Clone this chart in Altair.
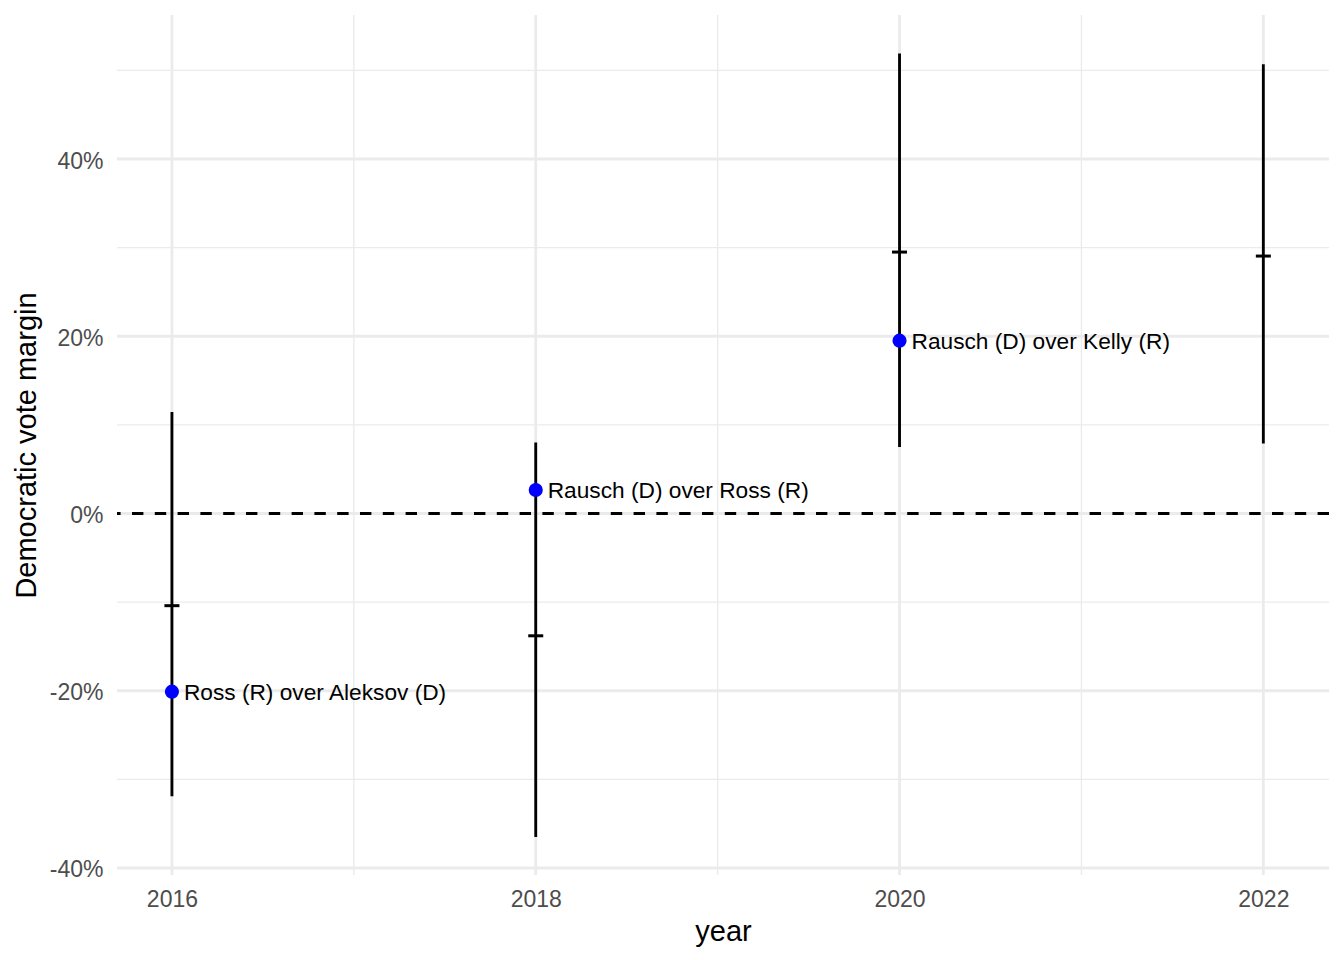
import altair as alt
import pandas as pd

years = [2016, 2018, 2020, 2022]
ci_low = [-31.9, -36.5, 7.5, 7.9]
ci_high = [11.45, 8.0, 51.9, 50.7]
estimate = [-10.4, -13.8, 29.5, 29.05]

result_years = [2016, 2018, 2020]
result_margin = [-20.1, 2.65, 19.5]
result_labels = ["Ross (R) over Aleksov (D)", "Rausch (D) over Ross (R)", "Rausch (D) over Kelly (R)"]

major_x = [2016, 2018, 2020, 2022]
minor_x = [2017, 2019, 2021]
major_y = [-40, -20, 0, 20, 40]
minor_y = [-30, -10, 10, 30, 50]

FONT = "Liberation Sans"
XDOM = [2015.698, 2022.361]
YDOM = [-40.79, 56.25]

ci = pd.DataFrame({"year": years, "low": ci_low, "high": ci_high, "est": estimate})
res = pd.DataFrame({"year": result_years, "margin": result_margin, "label": result_labels})

xs = alt.Scale(domain=XDOM, nice=False, zero=False)
ys = alt.Scale(domain=YDOM, nice=False, zero=False)

GRID = "#EBEBEB"

minor_xg = alt.Chart(pd.DataFrame({"v": minor_x})).mark_rule(color=GRID, strokeWidth=1.4).encode(
    x=alt.X("v:Q", scale=xs))
major_xg = alt.Chart(pd.DataFrame({"v": major_x})).mark_rule(color=GRID, strokeWidth=2.8).encode(
    x=alt.X("v:Q", scale=xs,
            axis=alt.Axis(values=major_x, format="d", title="year", grid=False, ticks=False,
                          domain=False, labelFont=FONT, labelFontSize=23, labelColor="#4D4D4D",
                          labelPadding=13, titleFont=FONT, titleFontSize=29, titleFontWeight="normal",
                          titleColor="black", titlePadding=6)))
minor_yg = alt.Chart(pd.DataFrame({"v": minor_y})).mark_rule(color=GRID, strokeWidth=1.4).encode(
    y=alt.Y("v:Q", scale=ys))
major_yg = alt.Chart(pd.DataFrame({"v": major_y})).mark_rule(color=GRID, strokeWidth=2.8).encode(
    y=alt.Y("v:Q", scale=ys,
            axis=alt.Axis(values=major_y, labelExpr="datum.value + '%'", title="Democratic vote margin",
                          grid=False, ticks=False, domain=False, labelFont=FONT, labelFontSize=23,
                          labelColor="#4D4D4D", labelPadding=14, labelOffset=2, titleFont=FONT,
                          titleFontSize=29, titleFontWeight="normal", titleColor="black",
                          titlePadding=8)))

zero = alt.Chart(pd.DataFrame({"v": [0]})).mark_rule(color="black", strokeWidth=2.85,
                                                      strokeDash=[11.4, 11.4]).encode(
    y=alt.Y("v:Q", scale=ys))

bars = alt.Chart(ci).mark_rule(color="black", strokeWidth=2.85).encode(
    x=alt.X("year:Q", scale=xs), y=alt.Y("low:Q", scale=ys), y2="high:Q")

ticks = alt.Chart(ci).mark_tick(color="black", orient="horizontal", size=15, thickness=3,
                                opacity=1).encode(
    x=alt.X("year:Q", scale=xs), y=alt.Y("est:Q", scale=ys))

pts = alt.Chart(res).mark_circle(color="#0000FF", size=200, opacity=1).encode(
    x=alt.X("year:Q", scale=xs), y=alt.Y("margin:Q", scale=ys))

labels = alt.Chart(res).mark_text(align="left", baseline="middle", dx=12, dy=1, font=FONT,
                                  fontSize=22.7, color="black").encode(
    x=alt.X("year:Q", scale=xs), y=alt.Y("margin:Q", scale=ys), text="label:N")

chart = alt.layer(minor_xg, major_xg, minor_yg, major_yg, zero, bars, ticks, pts, labels).properties(
    width=1212, height=860,
    autosize=alt.AutoSizeParams(type="none"),
    padding={"left": 109, "top": 7, "right": 7, "bottom": 77},
    background="white",
).configure_view(stroke=None)

chart.save("out.html", embed_options={"renderer": "svg", "actions": False})
